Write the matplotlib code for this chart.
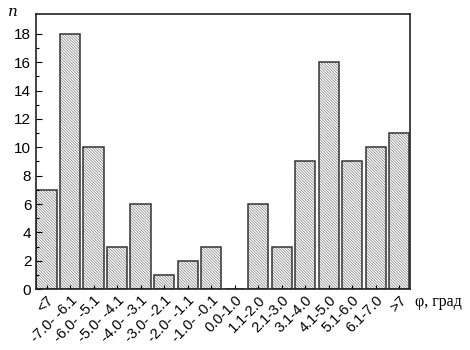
import matplotlib
matplotlib.use("Agg")
import matplotlib.pyplot as plt
import numpy as np

# data
CATEGORIES = ["<7", "-7.0- -6.1", "-6.0- -5.1", "-5.0- -4.1", "-4.0- -3.1",
              "-3.0- -2.1", "-2.0- -1.1", "-1.0- -0.1", "0.0-1.0", "1.1-2.0",
              "2.1-3.0", "3.1-4.0", "4.1-5.0", "5.1-6.0", "6.1-7.0", ">7"]
COUNTS = [7, 18, 10, 3, 6, 1, 2, 3, 0, 6, 3, 9, 16, 9, 10, 11]
Y_TICKS = [0, 2, 4, 6, 8, 10, 12, 14, 16, 18]

plt.rcParams["font.family"] = ["Liberation Sans", "DejaVu Sans"]
plt.rcParams["hatch.linewidth"] = 0.45

fig = plt.figure(figsize=(4.7, 3.5), dpi=100)
ax = fig.add_axes([0.077, 0.174, 0.795, 0.786])

x = np.arange(len(CATEGORIES))
# hatch fill in gray, then a dark outline on top
ax.bar(x, COUNTS, width=0.86, color="white", edgecolor="#707070",
       linewidth=0, hatch="\\" * 12)
ax.bar(x, COUNTS, width=0.86, fill=False, edgecolor="#333333", linewidth=1.1)

ax.set_xlim(-0.44, len(CATEGORIES) - 0.55)
ax.set_ylim(0, 19.4)
ax.set_yticks(Y_TICKS)
ax.set_yticks(np.arange(1, 19, 2), minor=True)
ax.set_xticks(x)
ax.set_xticklabels(CATEGORIES, rotation=45, ha="right", rotation_mode="anchor",
                   fontsize=10.5)
ax.tick_params(axis="y", labelsize=11, direction="in", length=4, width=0.8)
ax.tick_params(axis="y", which="minor", direction="in", length=2, width=0.8)
ax.tick_params(axis="x", direction="in", length=3, width=0.8, pad=3)

for s in ax.spines.values():
    s.set_linewidth(1.2)
    s.set_color("#222222")
    s.set_zorder(3)

fig.text(0.028, 0.965, "n", fontsize=11, family="DejaVu Serif", style="italic",
         ha="center", va="center")
fig.text(0.882, 0.137, "φ, град", fontsize=11.5, family="Liberation Serif",
         ha="left", va="center")

fig.savefig("out.png", dpi=100)
